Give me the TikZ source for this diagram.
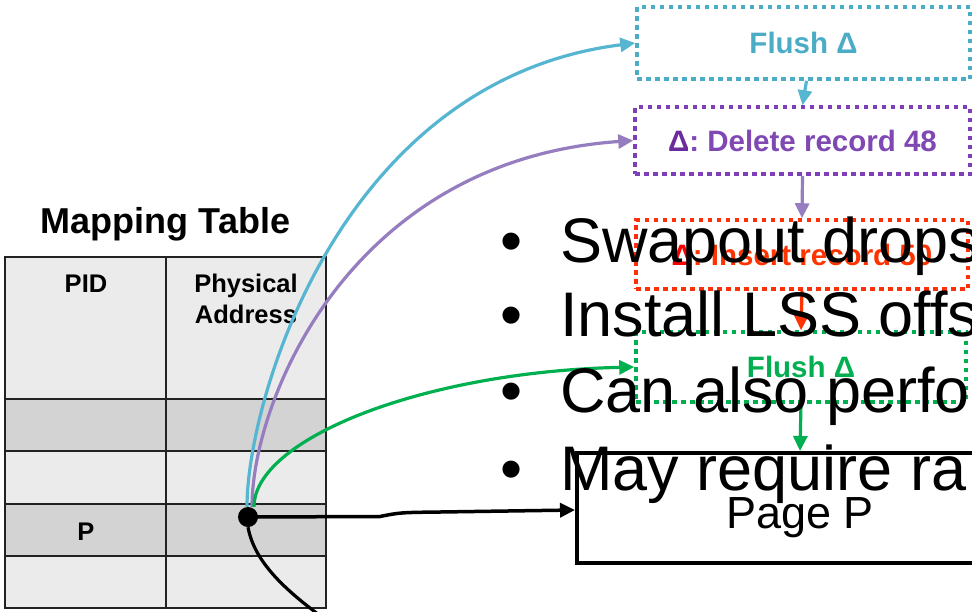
\documentclass[tikz,border=0pt]{standalone}
\usepackage{fontspec}
\setmainfont{Liberation Sans}
\usetikzlibrary{arrows.meta}
\definecolor{cyanc}{HTML}{4BACC6}
\definecolor{cyanline}{HTML}{56B6D2}
\definecolor{purpbox}{HTML}{7E3FB8}
\definecolor{purptext}{HTML}{7F48B3}
\definecolor{purpdelta}{HTML}{6B2A9E}
\definecolor{purpline}{HTML}{957DBF}
\definecolor{redbox}{HTML}{FF2F0A}
\definecolor{redtext}{HTML}{FF3300}
\definecolor{reddelta}{HTML}{FF0000}
\definecolor{greenc}{HTML}{00B050}
\definecolor{rowlight}{HTML}{EBEBEB}
\definecolor{rowdark}{HTML}{D3D3D3}
\definecolor{gridc}{HTML}{222222}
\begin{document}
\begin{tikzpicture}[x=1pt,y=-1pt,
  dotbox/.style={draw, line width=3.5pt, dash pattern=on 4.5pt off 4.5pt, inner sep=0pt,
    font=\fontsize{29.5}{35}\selectfont\bfseries},
  conn/.style={line width=3.2pt, -{Triangle[length=15pt,width=14pt]}},
  celltext/.style={font=\fontsize{25.5}{31}\selectfont\bfseries, inner sep=0pt},
  bigtext/.style={font=\fontsize{63}{75}\selectfont, inner sep=0pt, anchor=base west},
  bulletmark/.style={font=\fontsize{63}{75}\selectfont, inner sep=0pt, anchor=base},
  gridline/.style={draw=gridc, line width=2pt},
]
\useasboundingbox (0,0) rectangle (972,611);
\clip (0,0) rectangle (972,611);
\fill[white] (0,0) rectangle (972,611);

% mapping table
\fill[rowlight] (5,257) rectangle (326,608);
\fill[rowdark] (5,399) rectangle (326,451);
\fill[rowdark] (5,504) rectangle (326,556);
\foreach \yy in {399,451,504,556} \draw[gridline] (5,\yy) -- (326,\yy);
\draw[gridline] (166,257) -- (166,608);
\draw[gridline] (5,257) rectangle (326,608);

\node[font=\fontsize{36}{43}\selectfont\bfseries, inner sep=0pt, anchor=base] (title) at (165.5,233) {Mapping Table};
\node[celltext, anchor=base] (pid) at (86,292) {PID};
\node[celltext, anchor=north, align=center] (phys) at (246,273.7) {Physical\\Address};
\node[celltext, anchor=base] (pcell) at (86,540) {P};

% delta chain boxes
\node[dotbox, cyanc, text=cyanc, minimum width=333pt, minimum height=72pt] (flushA) at (803.5,43) {Flush Δ};
\node[dotbox, purpbox, text=purptext, minimum width=335pt, minimum height=67pt] (delrec) at (802.5,140.5) {\textcolor{purpdelta}{Δ}: Delete record 48};
\node[dotbox, redbox, text=redtext, minimum width=332pt, minimum height=69pt] (insrec) at (802,254.5) {\textcolor{reddelta}{Δ}: Insert record 50};
\node[dotbox, greenc, text=greenc, minimum width=330pt, minimum height=70pt] (flushB) at (801,367) {Flush Δ};
\node[draw=black, line width=4pt, minimum width=446pt, minimum height=110pt, inner sep=0pt] (page) at (800,508) {};
\node[font=\fontsize{45}{54}\selectfont, anchor=base, inner sep=0pt] (pagelabel) at (800,528) {Page P};

% pointer dot
\node[circle, fill=black, inner sep=0pt, minimum size=20pt] (dot) at (248,517) {};
\coordinate (offpage) at (340,630);

% curves from the mapping table
\draw[conn, cyanline] ([xshift=-1pt]dot.north) .. controls (247,400) and (340,80) .. (flushA.west);
\draw[conn, purpline] ([xshift=4pt]dot.north) .. controls (252,400) and (350,160) .. (delrec.west);
\draw[conn, greenc] ([xshift=6pt]dot.north) .. controls (254,440) and (420,372) .. (flushB.west);
\draw[conn, black, line width=3.5pt] (dot.center) -- (380,516.5) .. controls (400,512.5) .. (440,512) -- ([yshift=-2pt]page.west);
\draw[black, line width=3.2pt] (dot.south) .. controls (255,565) and (290,595) .. (offpage);

% chain arrows
\draw[conn, cyanline] ([xshift=3pt]flushA.south) -- (delrec.north);
\draw[conn, purpline] (delrec.south) -- (insrec.north);
\draw[conn, redtext] (insrec.south) -- (flushB.north);
\draw[conn, greenc] (flushB.south) -- (page.north);

% bullet text on top
\node[bulletmark] (b1) at (512,262) {•};
\node[bulletmark] (b2) at (512,336) {•};
\node[bulletmark] (b3) at (512,412) {•};
\node[bulletmark] (b4) at (512,490) {•};
\node[bigtext] (t1) at (560,262) {Swapout drops};
\node[bigtext] (t2) at (560,336) {Install LSS offs};
\node[bigtext] (t3) at (560,412) {Can also perfo};
\node[bigtext] (t4) at (560,490) {May require ra};
\end{tikzpicture}
\end{document}
